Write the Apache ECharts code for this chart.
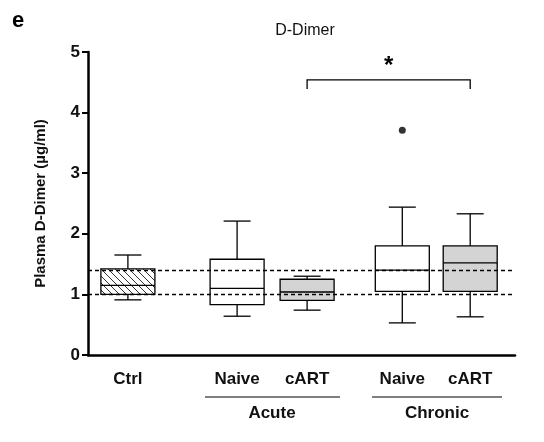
<!DOCTYPE html><html><head><meta charset="utf-8"><script src="https://cdn.jsdelivr.net/npm/echarts@6/dist/echarts.min.js"></script></head><body style="margin:0"><div id="c" style="width:544px;height:442px"></div><script>
const categories=['Ctrl','Naive','cART','Naive','cART'];
const positions=[0.57,2.13,3.13,4.49,5.46];
const mins=[0.91,0.64,0.74,0.53,0.63];
const q1s=[1.0,0.83,0.9,1.05,1.05];
const medians=[1.15,1.1,1.04,1.4,1.52];
const q3s=[1.42,1.58,1.25,1.8,1.8];
const maxs=[1.65,2.21,1.3,2.44,2.33];
const fills=['hatch','#fff','#d4d4d4','#fff','#d4d4d4'];
const outliers=[[4.49,3.71]];
const refLines=[1.0,1.4];
const yTicks=[0,1,2,3,4,5];
const cv=document.createElement('canvas');cv.width=7;cv.height=7;const g=cv.getContext('2d');
g.fillStyle='#fff';g.fillRect(0,0,7,7);g.strokeStyle='#333';g.lineWidth=1;g.beginPath();g.moveTo(0,0);g.lineTo(7,7);g.moveTo(-1,6);g.lineTo(1,8);g.moveTo(6,-1);g.lineTo(8,1);g.stroke();
const data=categories.map((c,i)=>[positions[i],mins[i],q1s[i],medians[i],q3s[i],maxs[i],i]);
const ch=echarts.init(document.getElementById('c'));
const lw=1.3,half=27;
ch.setOption({animation:false,
grid:{left:88,right:29,top:52,bottom:87},
title:{text:'D-Dimer',left:300,top:18,textAlign:'center',textStyle:{fontFamily:'Liberation Sans',fontWeight:'normal',fontSize:16,color:'#111'}},
xAxis:{type:'value',min:0,max:6.1,axisLine:{lineStyle:{color:'#000',width:2.5}},axisTick:{show:false},axisLabel:{show:false},splitLine:{show:false}},
yAxis:{type:'value',min:0,max:5,interval:1,name:'Plasma D-Dimer (µg/ml)',nameLocation:'middle',nameGap:40,nameTextStyle:{fontFamily:'Liberation Sans',fontWeight:'bold',fontSize:15,color:'#111'},
axisLine:{show:true,lineStyle:{color:'#000',width:2.5}},axisTick:{show:true,length:6,lineStyle:{width:2}},axisLabel:{fontFamily:'Liberation Sans',fontWeight:'bold',fontSize:17,color:'#111',formatter:v=>yTicks.includes(v)?String(v):''},splitLine:{show:false}},
series:[
{type:'line',data:[],markLine:{symbol:'none',silent:true,label:{show:false},lineStyle:{type:[4,3],color:'#000',width:1.3},data:refLines.map(v=>({yAxis:v}))}},
{type:'custom',data:data,renderItem:(p,api)=>{
 const x=api.value(0),i=api.value(6);
 const pmin=api.coord([x,api.value(1)]),pq1=api.coord([x,api.value(2)]),pm=api.coord([x,api.value(3)]),pq3=api.coord([x,api.value(4)]),pmax=api.coord([x,api.value(5)]);
 const cx=pm[0];const st={stroke:'#000',lineWidth:lw};
 const f=fills[i]==='hatch'?{image:cv,repeat:'repeat'}:fills[i];
 return {type:'group',children:[
 {type:'line',shape:{x1:cx,y1:pmax[1],x2:cx,y2:pq3[1]},style:st},
 {type:'line',shape:{x1:cx,y1:pq1[1],x2:cx,y2:pmin[1]},style:st},
 {type:'line',shape:{x1:cx-half/2,y1:pmax[1],x2:cx+half/2,y2:pmax[1]},style:st},
 {type:'line',shape:{x1:cx-half/2,y1:pmin[1],x2:cx+half/2,y2:pmin[1]},style:st},
 {type:'rect',shape:{x:cx-half,y:pq3[1],width:half*2,height:pq1[1]-pq3[1]},style:{fill:f,stroke:'#000',lineWidth:lw}},
 {type:'line',shape:{x1:cx-half,y1:pm[1],x2:cx+half,y2:pm[1]},style:st}]};}},
{type:'scatter',data:outliers,symbolSize:7,itemStyle:{color:'#000'}},
{type:'custom',data:[[3.13,5.46,4.54]],renderItem:(p,api)=>{
 const a=api.coord([api.value(0),api.value(2)]),b=api.coord([api.value(1),api.value(2)]);
 return {type:'group',children:[
 {type:'polyline',shape:{points:[[a[0],a[1]+9],a,b,[b[0],b[1]+9]]},style:{stroke:'#000',lineWidth:1.3,fill:null}},
 {type:'text',style:{text:'*',x:(a[0]+b[0])/2,y:a[1]-2,textAlign:'center',textVerticalAlign:'bottom',font:'bold 24px Liberation Sans',fill:'#000'}}]};}}
],
graphic:[
{type:'text',left:12,top:10,style:{text:'e',font:'bold 22px Liberation Sans',fill:'#000'}},
...categories.map((c,i)=>({type:'text',x:88+positions[i]*70,y:371,style:{text:c,textAlign:'center',font:'bold 17px Liberation Sans',fill:'#111'}})),
{type:'line',shape:{x1:205,y1:397,x2:340,y2:397},style:{stroke:'#000',lineWidth:1.2}},
{type:'line',shape:{x1:372,y1:397,x2:502,y2:397},style:{stroke:'#000',lineWidth:1.2}},
{type:'text',x:272,y:405,style:{text:'Acute',textAlign:'center',font:'bold 17px Liberation Sans',fill:'#111'}},
{type:'text',x:437,y:405,style:{text:'Chronic',textAlign:'center',font:'bold 17px Liberation Sans',fill:'#111'}}
]});
</script></body></html>
